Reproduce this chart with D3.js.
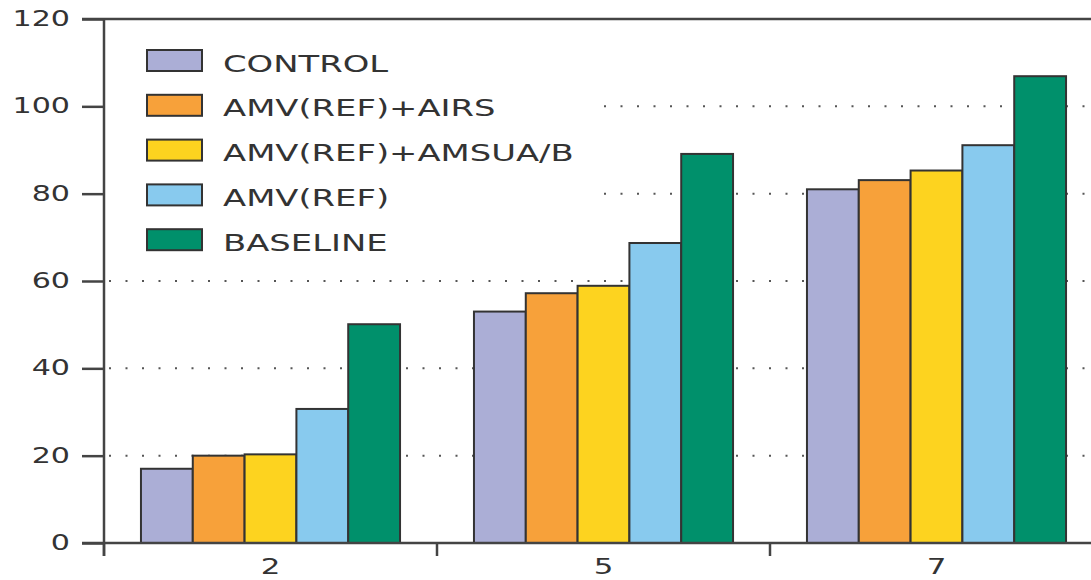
<!DOCTYPE html>
<html><head><meta charset="utf-8">
<script src="https://cdn.jsdelivr.net/npm/d3@7"></script>
<style>body{margin:0;background:#fff}svg{display:block}text{font-family:"DejaVu Sans",sans-serif;fill:#333}</style>
</head><body><svg id="c" width="1091" height="580"></svg>
<script>
const categories = ["2", "5", "7"];
const seriesNames = ["CONTROL", "AMV(REF)+AIRS", "AMV(REF)+AMSUA/B", "AMV(REF)", "BASELINE"];
const control = [17, 53, 81];
const amvAirs = [20, 57.2, 83.1];
const amvAmsu = [20.3, 58.9, 85.3];
const amvRef = [30.7, 68.7, 91.1];
const baseline = [50.1, 89.1, 106.9];
const yTicks = [0, 20, 40, 60, 80, 100, 120];
const gridValues = [20, 40, 60, 80, 100];
const colors = ["#abaed6", "#f7a13a", "#fdd31f", "#88caee", "#00906b"];

const series = [control, amvAirs, amvAmsu, amvRef, baseline];
const svg = d3.select("#c");
const W = 1091;
const axisColor = "#444";

const x = d3.scaleBand().domain(categories).range([104, 1103]).paddingInner(0.222).paddingOuter(0.111);
const xs = d3.scaleBand().domain(seriesNames).range([0, x.bandwidth()]);
const y = d3.scaleLinear().domain([0, 120]).range([543, 19]);

// gridlines
svg.append("g").selectAll("line").data(gridValues).join("line")
  .attr("x1", 109).attr("x2", W).attr("y1", d => y(d)).attr("y2", d => y(d))
  .attr("stroke", "#555").attr("stroke-width", 2).attr("stroke-dasharray", "2 14.5");

// legend background (covers gridlines)
svg.append("rect").attr("x", 106).attr("y", 30).attr("width", 492).attr("height", 232).attr("fill", "#fff");

// bars
const groups = svg.append("g").selectAll("g").data(categories).join("g")
  .attr("transform", d => `translate(${x(d)},0)`);
groups.selectAll("rect").data((d, i) => seriesNames.map((s, j) => ({s, j, v: series[j][i]}))).join("rect")
  .attr("x", d => xs(d.s)).attr("width", xs.bandwidth())
  .attr("y", d => y(d.v)).attr("height", d => y(0) - y(d.v))
  .attr("fill", d => colors[d.j]).attr("stroke", "#333").attr("stroke-width", 2);

// y axis
const ya = svg.append("g").attr("transform", "translate(104,0)")
  .call(d3.axisLeft(y).tickValues(yTicks).tickSize(22).tickPadding(12));
ya.select(".domain").remove();
ya.selectAll("line").attr("stroke", axisColor).attr("stroke-width", 2.5);
ya.selectAll("text").attr("font-size", 20.5).attr("font-family", "DejaVu Sans").attr("fill", "#333");

// x axis labels
const xa = svg.append("g").attr("transform", `translate(0,${y(0)})`)
  .call(d3.axisBottom(x).tickSize(0).tickPadding(16));
xa.select(".domain").remove();
xa.selectAll("text").attr("font-size", 21).attr("font-family", "DejaVu Sans").attr("fill", "#333");

// frame lines
svg.append("line").attr("x1", 104).attr("x2", 104).attr("y1", y(120)).attr("y2", y(0) + 13)
  .attr("stroke", axisColor).attr("stroke-width", 2.5);
svg.append("line").attr("x1", 82).attr("x2", W).attr("y1", y(0)).attr("y2", y(0))
  .attr("stroke", axisColor).attr("stroke-width", 2.5);
svg.append("line").attr("x1", 82).attr("x2", W).attr("y1", y(120)).attr("y2", y(120))
  .attr("stroke", axisColor).attr("stroke-width", 2.5);
// x boundary ticks
svg.append("g").selectAll("line").data(d3.range(categories.length)).join("line")
  .attr("x1", i => x.range()[0] + i * x.step()).attr("x2", i => x.range()[0] + i * x.step())
  .attr("y1", y(0)).attr("y2", y(0) + 13)
  .attr("stroke", axisColor).attr("stroke-width", 2.5);

// legend
const lg = svg.append("g").selectAll("g").data(seriesNames).join("g")
  .attr("transform", (d, i) => `translate(147,${50 + i * 44.8})`);
lg.append("rect").attr("width", 55).attr("height", 21)
  .attr("fill", (d, i) => colors[i]).attr("stroke", "#333").attr("stroke-width", 2);
lg.append("text").attr("x", 76).attr("y", 10.5).attr("dy", "0.48em")
  .attr("font-size", 23).text(d => d);

// horizontal stretch of all text to match reference lettering
svg.selectAll("text").each(function() {
  const L = this.getComputedTextLength();
  d3.select(this).attr("textLength", L * 1.47).attr("lengthAdjust", "spacingAndGlyphs");
});
</script></body></html>
